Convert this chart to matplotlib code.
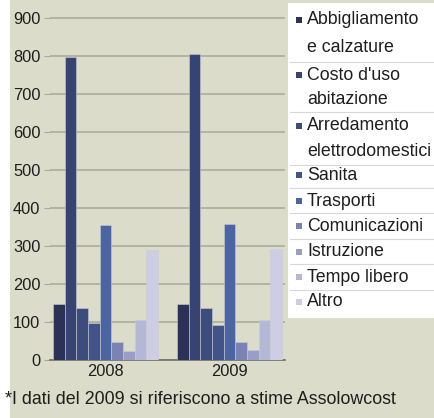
""" Spesa per consumi 2008-2009, barre per categoria """

import matplotlib.pyplot as plt
from matplotlib.patches import Rectangle
from matplotlib.lines import Line2D

plt.rcParams['font.family'] = ['Liberation Sans Narrow', 'Liberation Sans', 'DejaVu Sans']

# Data
years = ['2008', '2009']
categories = ['Abbigliamento\ne calzature', "Costo d'uso\nabitazione",
              'Arredamento\nelettrodomestici', 'Sanita', 'Trasporti',
              'Comunicazioni', 'Istruzione', 'Tempo libero', 'Altro']
values_2008 = [148, 797, 138, 97, 355, 48, 23, 105, 290]
values_2009 = [148, 805, 138, 92, 358, 48, 25, 105, 292]
yticks = [0, 100, 200, 300, 400, 500, 600, 700, 800, 900]
note = '*I dati del 2009 si riferiscono a stime Assolowcost'

colours = ['#2b3255', '#374370', '#3c4c7c', '#415388', '#4b64a3',
           '#7a83b3', '#9a9ec7', '#b4b7d6', '#cdcee3']
bg = '#dcdccb'
txt_col = '#1e1e1e'

fig = plt.figure(figsize=(4.35, 4.18), dpi=100)
fig.patch.set_facecolor('white')
fig.patches.append(Rectangle((10 / 435, 0), 1, 1, transform=fig.transFigure,
                             facecolor=bg, edgecolor='none', zorder=-10))

ax = fig.add_axes([50 / 435, 1 - 360 / 418, 235 / 435, 350 / 418])
ax.set_facecolor('none')

gap = 1.6
n = len(categories)
for g, vals in enumerate([values_2008, values_2009]):
    x0 = g * (n + gap)
    for i, v in enumerate(vals):
        ax.bar(x0 + i, v, width=1.0, color=colours[i], edgecolor='#c9cad6',
               linewidth=0.4, zorder=3)

ax.set_ylim(0, 920)
ax.set_xlim(-0.76, (n + gap) + n - 0.5 + 0.26)
ax.set_yticks(yticks)
ax.set_yticklabels([str(t) for t in yticks], fontsize=11.8, color=txt_col)
ax.yaxis.grid(True, color='#a9a99a', linewidth=1.1, zorder=1)
ax.tick_params(axis='y', length=4, width=0.8, color='#a9a99a', pad=3)
ax.set_xticks([])
for s in ["top", "right", "left"]:
    ax.spines[s].set_visible(False)
ax.spines["bottom"].set_color('#6e6e66')
ax.spines["bottom"].set_linewidth(1.2)

for g, yr in enumerate(years):
    xc = g * (n + gap) + (n - 1) / 2
    ax.text(xc, -10, yr, ha='center', va='top', fontsize=11.8, color=txt_col,
            transform=ax.transData)

fig.text(5 / 435, 1 - 400 / 418, note, ha='left', va='center', fontsize=12.9,
         color=txt_col)

# Legend panel drawn by hand
fig.patches.append(Rectangle((288 / 435, 1 - 318 / 418), 147 / 435, 315 / 418,
                             transform=fig.transFigure, facecolor='white',
                             edgecolor='none', zorder=-5))
row_y = [[20, 47], [75, 99], [126, 152], [175], [201], [226], [252], [277], [302]]
seps = [62, 112, 165, 188, 213, 239, 264, 290]
for i, (lab, ys) in enumerate(zip(categories, row_y)):
    lines = lab.split('\n')
    fig.patches.append(Rectangle((296 / 435, 1 - (ys[0] + 3) / 418), 6 / 435, 6 / 418,
                                 transform=fig.transFigure, facecolor=colours[i],
                                 edgecolor='none'))
    for txt, yy in zip(lines, ys):
        fig.text(307 / 435, 1 - yy / 418, txt, ha='left', va='center',
                 fontsize=12.8, color=txt_col)
for sy in seps:
    fig.lines.append(Line2D([290 / 435, 1], [1 - sy / 418] * 2,
                            transform=fig.transFigure, color='#d8d8d8', linewidth=0.8))

plt.savefig("out.png", dpi=100)
